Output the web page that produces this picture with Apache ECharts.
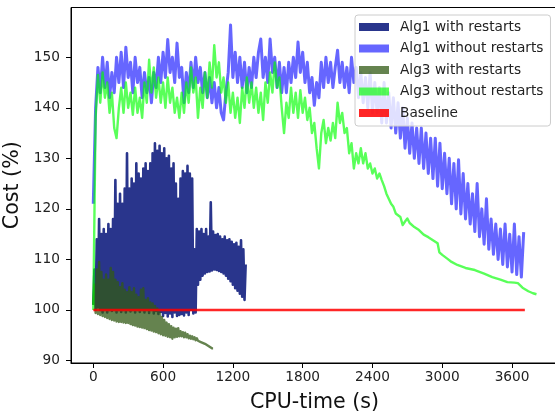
<!DOCTYPE html>
<html><head><meta charset="utf-8">
<script src="https://cdn.jsdelivr.net/npm/echarts@6/dist/echarts.min.js"></script>
<style>html,body{margin:0;padding:0;background:#fff}#c{width:555px;height:414px}</style>
</head><body><div id="c"></div>
<script>
// ---- tick labels ----
const xTicks = [0, 600, 1200, 1800, 2400, 3000, 3600];
const yTicks = [90, 100, 110, 120, 130, 140, 150];
const seriesNames = ['Alg1 with restarts', 'Alg1 without restarts', 'Alg3 with restarts', 'Alg3 without restarts', 'Baseline'];

// ---- Alg1 with restarts (sampled every 10 s from 0 s) ----
const alg1RestartStart = 0, alg1RestartStep = 10;
const alg1RestartCost = [
 101,108,100,114,100.5,118,100,115,99.5,116,
 100,115,99.5,117,100,116,99.8,118,100,125.7,
 99.5,121,100,123,99.6,121,100,124,99.5,131,
 100,124,99.7,126,100,125,99.5,129,100,127,
 99.6,126,100,128,99.5,129,100,127.5,99.4,129,
 100,131,99.3,133,99.8,131.5,99.2,132.5,99.6,131,
 98.8,132,99.4,130,98.7,130.5,99.3,128,98.6,129,
 99.5,125,98.8,122,99,126,99.2,127.5,98.9,127,
 99.5,128.5,99,127,100,126,99.3,112,99.5,116,
 105,115.5,106,116,106.8,115,107.2,116,107.5,114.5,
 107.6,121.3,107.8,115.5,108,114.8,107.9,115,107.7,114.5,
 107.5,114,107.2,114.5,106.8,113.8,106.2,114,105.7,113.5,
 105,113,104.3,113.3,103.8,112.5,103.2,113.8,102.6,112,
 102,109];

// ---- Alg1 without restarts (sampled every 20 s from 0 s) ----
const alg1NoRestartStart = 0, alg1NoRestartStep = 20;
const alg1NoRestartCost = [
 121,140,148,143,150,144,149,142,147,143,
 150,145,151,144,152,146,149,143,150,145,
 148,142,147,143,146,141,147,144,150,145,
 151,146,153.5,147,150,145,152.8,146,148,141,
 147,143,149,144,150,145,148,143,147,142,
 146,141,145,140,144,139,137.6,143,147,156.4,
 146,151,145,150,144,149,143,148,144,150,
 146,151,153.6,146,150,145,153.6,147,150,144,
 149,143,148,143,149,145,150,146,153,147,
 151,145,149,143,146,140.5,145,142,149,144,
 150,145,149,144,148,151.4,145,149,144,148,
 143,150,145,148,142,147,141,146,140,147,
 139,145,139,144,137,145,137,143,136,142,
 135,141,134,140,132,138,131,137,130,136,
 129,136,128,135,127,134,126,134,124.5,133,
 124,131,123,130,121,129,120,129.7,119,127,
 118,125,117,123,115.5,125,114.5,120,113,122,
 112,118,111,117,110,116,109,117,108.5,115,
 107.5,117,107,114.5,106.5,115.4];

// ---- Alg3 with restarts (sampled every 10 s from 0 s) ----
const alg3RestartStart = 0, alg3RestartStep = 10;
const alg3RestartCost = [
 101,105,99.4,108,99.2,109.5,99,107.5,98.8,106,
 98.6,107,98.4,106,98.2,108.3,98,107.5,97.9,106,
 97.7,105.5,97.6,104.5,97.6,105.3,97.5,104,97.4,103.5,
 97.4,104.5,97.2,103.5,97,104.3,96.9,103,96.7,102.5,
 96.6,104,96.5,104.3,96.4,102,96.2,102.3,96,101.5,
 95.9,101.3,95.7,100.8,95.6,100.3,95.4,99.5,95.2,98.6,
 95,98,94.9,97.5,94.7,97.2,94.6,96.8,94.3,96.5,
 94.6,96.3,94.7,96.4,94.8,95.8,94.8,95.6,94.6,95.5,
 94.6,95.2,94.4,94.9,94.3,94.8,94.2,94.6,94,94.4,
 93.9,94.2,93.7,93.9,93.5,93.7,93.3,93.3,93,92.9,
 92.7,92.6,92.4,92.4];

// ---- Alg3 without restarts: noisy part (every 20 s from 0 s) + smooth tail ----
const alg3NoRestartStart = 0, alg3NoRestartStep = 20;
const alg3NoRestartCost = [
 100,138,146.5,141,147,142,145,139,143,136,
 134,140,144,139,145,140,143,138.6,144,139,
 142,138,145,141,149.5,143,148,142,146,141,
 145,140,146,141,144,139,142,138,143,139,
 145,141,148,143,146,138,144,140,147,142,
 149,144,152.4,146,149,143,146,141,145,139,
 143,138,142,137,144,140,146,141,145,140,
 144,139,143,137.6,145,141,147,143,149,144,
 146,140,135,141,138,144,139,143,138,143.5,
 139,142,137.6,140,135,137,132,128,135,137.6,
 133,136,133.5,137,134,141,137,139,135,136,
 131,133,128,131,129,132,129,131,128,129,
 127,128,126,127,125.7,124.5,123,122];
const alg3TailTime = [2560,2580,2600,2640,2660,2680,2700,2720,2760,2800,2840,2880,2920,2960,2975,3000,3040,3080,3130,3200,3280,3360,3430,3500,3560,3620,3650,3690,3740,3780,3810];
const alg3TailCost = [121,120.4,119.1,118.4,116.8,117.5,118.1,117.2,116.4,115.8,114.9,114.4,113.8,113.2,111.4,110.9,110.2,109.5,108.9,108.3,107.9,107.2,106.5,106,105.5,105.4,105.3,104.4,103.7,103.3,103.1];

// ---- Baseline ----
const baselineTime = [0, 3710];
const baselineCost = [100, 100];

function regular(start, step, vals) { return vals.map((v, i) => [start + i * step, v]); }
function paired(xs, ys) { return xs.map((x, i) => [x, ys[i]]); }

const FONT = 'DejaVu Sans';
const colors = ['#29358c', 'rgba(0,0,255,0.6)', 'rgba(50,90,20,0.75)', 'rgba(0,255,0,0.65)', 'rgba(255,0,0,0.85)'];
const widths = [2.6, 3, 2.4, 2.4, 2.5];
const datasets = [
  regular(alg1RestartStart, alg1RestartStep, alg1RestartCost),
  regular(alg1NoRestartStart, alg1NoRestartStep, alg1NoRestartCost),
  regular(alg3RestartStart, alg3RestartStep, alg3RestartCost),
  regular(alg3NoRestartStart, alg3NoRestartStep, alg3NoRestartCost).concat(paired(alg3TailTime, alg3TailCost)),
  paired(baselineTime, baselineCost)
];

const chart = echarts.init(document.getElementById('c'), null, {renderer: 'canvas'});
chart.setOption({
  animation: false,
  backgroundColor: '#fff',
  textStyle: {fontFamily: FONT},
  grid: {left: 71, top: 7.5, right: -3, bottom: 51, containLabel: false, outerBoundsMode: 'none',
         show: true, borderColor: '#000', borderWidth: 1, backgroundColor: 'transparent'},
  legend: {
    orient: 'vertical', left: 355, top: 15,
    data: seriesNames, icon: 'rect', itemWidth: 30, itemHeight: 8, itemGap: 5.5,
    selectedMode: false,
    backgroundColor: 'rgba(255,255,255,0.8)', borderColor: '#cccccc', borderWidth: 1, borderRadius: 3,
    padding: [4, 7, 5, 4],
    textStyle: {fontFamily: FONT, fontSize: 13.7, color: '#222', lineHeight: 16, padding: [0, 0, 0, 6]}
  },
  xAxis: {
    type: 'value', min: -191.5, max: 3995,
    name: 'CPU-time (s)', nameLocation: 'middle', nameGap: 29,
    nameTextStyle: {fontFamily: FONT, fontSize: 20.6, color: '#111'},
    axisLine: {onZero: false, lineStyle: {color: '#000', width: 1}},
    axisTick: {show: true, length: 5, customValues: xTicks, lineStyle: {color: '#000'}},
    axisLabel: {customValues: xTicks, margin: 7, fontFamily: FONT, fontSize: 13.7, color: '#222',
                formatter: v => String(v)},
    splitLine: {show: false}
  },
  yAxis: {
    type: 'value', min: 89.5, max: 159.85,
    name: 'Cost (%)', nameLocation: 'middle', nameGap: 34.5,
    nameTextStyle: {fontFamily: FONT, fontSize: 20.6, color: '#111'},
    axisLine: {onZero: false, lineStyle: {color: '#000', width: 1}},
    axisTick: {show: true, length: 5, customValues: yTicks, lineStyle: {color: '#000'}},
    axisLabel: {customValues: yTicks, margin: 11, fontFamily: FONT, fontSize: 13.7, color: '#222',
                formatter: v => String(v)},
    splitLine: {show: false}
  },
  series: seriesNames.map((name, i) => ({
    type: 'line', name: name, data: datasets[i],
    symbol: 'none', showSymbol: false, silent: true, clip: true,
    color: colors[i], itemStyle: {color: colors[i]},
    lineStyle: {color: colors[i], width: widths[i], join: 'round'}
  }))
});
</script></body></html>
